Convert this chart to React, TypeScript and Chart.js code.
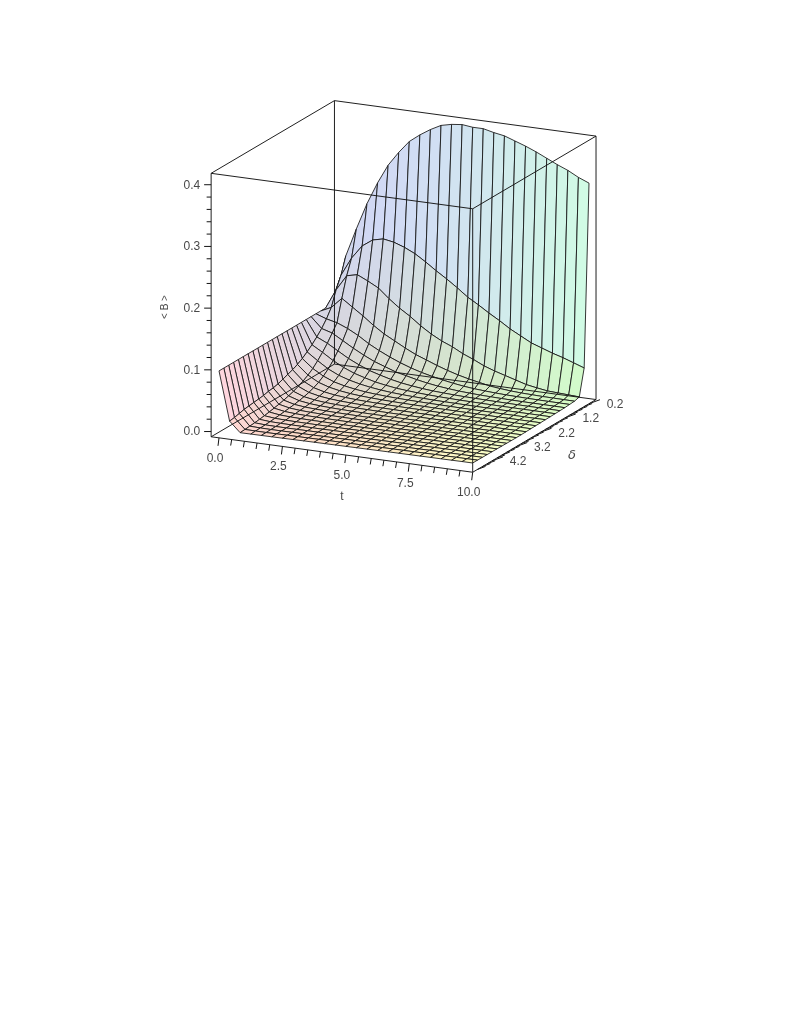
import React, { useEffect, useRef } from "react";
import { Chart, registerables } from "chart.js";

Chart.register(...registerables);

const tGrid = [0, 0.417, 0.833, 1.25, 1.667, 2.083, 2.5, 2.917, 3.333, 3.75, 4.167, 4.583, 5, 5.417, 5.833, 6.25, 6.667, 7.083, 7.5, 7.917, 8.333, 8.75, 9.167, 9.583, 10];
const deltaGrid = [0.2, 0.4, 0.6, 0.8, 1.0, 1.2, 1.4, 1.6, 1.8, 2.0, 2.2, 2.4, 2.6, 2.8, 3.0, 3.2, 3.4, 3.6, 3.8, 4.0, 4.2, 4.4, 4.6, 4.8, 5.0];

const b02 = [0.1, 0.178, 0.224, 0.267, 0.303, 0.334, 0.357, 0.377, 0.39, 0.401, 0.41, 0.414, 0.416, 0.414, 0.414, 0.41, 0.407, 0.401, 0.395, 0.388, 0.38, 0.372, 0.365, 0.356, 0.349];
const b04 = [0.1, 0.151, 0.181, 0.203, 0.215, 0.219, 0.216, 0.21, 0.202, 0.191, 0.179, 0.168, 0.156, 0.143, 0.133, 0.122, 0.112, 0.101, 0.092, 0.083, 0.077, 0.071, 0.066, 0.06, 0.054];
const b06 = [0.1, 0.132, 0.157, 0.161, 0.153, 0.144, 0.129, 0.116, 0.105, 0.092, 0.081, 0.072, 0.065, 0.056, 0.049, 0.041, 0.035, 0.03, 0.025, 0.02, 0.017, 0.0144, 0.0135, 0.0126, 0.0117];
const b08 = [0.1, 0.108, 0.125, 0.113, 0.101, 0.088, 0.0765, 0.0674, 0.0583, 0.05, 0.0436, 0.037, 0.0313, 0.0263, 0.0222, 0.0188, 0.0154, 0.0135, 0.012, 0.011, 0.0105, 0.01, 0.0098, 0.0096, 0.0094];
const b10 = [0.1, 0.094, 0.09, 0.083, 0.074, 0.063, 0.054, 0.046, 0.039, 0.033, 0.028, 0.024, 0.0205, 0.0175, 0.015, 0.0132, 0.012, 0.011, 0.0103, 0.0098, 0.0094, 0.0092, 0.009, 0.0089, 0.0088];
const b12 = [0.1, 0.083, 0.078, 0.068, 0.058, 0.049, 0.041, 0.035, 0.029, 0.025, 0.021, 0.0178, 0.0152, 0.0133, 0.0118, 0.0108, 0.01, 0.0095, 0.0091, 0.0088, 0.0086, 0.0085, 0.0084, 0.0083, 0.0082];
const b14 = [0.1, 0.074, 0.066, 0.056, 0.046, 0.038, 0.031, 0.026, 0.0215, 0.018, 0.0155, 0.0135, 0.012, 0.011, 0.0102, 0.0096, 0.0092, 0.0089, 0.0086, 0.0084, 0.0082, 0.0081, 0.008, 0.008, 0.0079];
const b16 = [0.1, 0.066, 0.056, 0.045, 0.036, 0.029, 0.024, 0.0195, 0.0165, 0.014, 0.0125, 0.0112, 0.0103, 0.0096, 0.0091, 0.0087, 0.0085, 0.0083, 0.0081, 0.008, 0.0079, 0.0078, 0.0078, 0.0077, 0.0077];
const b18 = [0.1, 0.059, 0.047, 0.036, 0.028, 0.0225, 0.0185, 0.0155, 0.0133, 0.0117, 0.0106, 0.0098, 0.0092, 0.0087, 0.0084, 0.0082, 0.008, 0.0078, 0.0077, 0.0076, 0.0076, 0.0075, 0.0075, 0.0075, 0.0074];
const b20 = [0.1, 0.053, 0.039, 0.029, 0.022, 0.0178, 0.0148, 0.0126, 0.0112, 0.0101, 0.0094, 0.0089, 0.0085, 0.0082, 0.008, 0.0078, 0.0076, 0.0075, 0.0074, 0.0074, 0.0073, 0.0073, 0.0072, 0.0072, 0.0072];
const b22 = [0.1, 0.048, 0.033, 0.0235, 0.018, 0.0146, 0.0123, 0.0108, 0.0098, 0.0091, 0.0086, 0.0082, 0.0079, 0.0077, 0.0075, 0.0074, 0.0073, 0.0072, 0.0071, 0.0071, 0.007, 0.007, 0.007, 0.0069, 0.0069];
const b24 = [0.1, 0.044, 0.028, 0.0195, 0.015, 0.0123, 0.0106, 0.0095, 0.0088, 0.0083, 0.0079, 0.0076, 0.0074, 0.0073, 0.0071, 0.007, 0.007, 0.0069, 0.0069, 0.0068, 0.0068, 0.0068, 0.0067, 0.0067, 0.0067];
const b26 = [0.1, 0.041, 0.024, 0.0165, 0.0128, 0.0107, 0.0094, 0.0086, 0.008, 0.0076, 0.0074, 0.0072, 0.007, 0.0069, 0.0068, 0.0067, 0.0067, 0.0066, 0.0066, 0.0066, 0.0065, 0.0065, 0.0065, 0.0065, 0.0065];
const b28 = [0.1, 0.038, 0.0205, 0.0142, 0.0112, 0.0095, 0.0085, 0.0079, 0.0074, 0.0071, 0.0069, 0.0067, 0.0066, 0.0065, 0.0065, 0.0064, 0.0064, 0.0063, 0.0063, 0.0063, 0.0063, 0.0063, 0.0062, 0.0062, 0.0062];
const b30 = [0.1, 0.035, 0.0178, 0.0124, 0.0099, 0.0086, 0.0078, 0.0073, 0.0069, 0.0067, 0.0065, 0.0064, 0.0063, 0.0062, 0.0062, 0.0061, 0.0061, 0.0061, 0.0061, 0.006, 0.006, 0.006, 0.006, 0.006, 0.006];
const b32 = [0.1, 0.033, 0.0155, 0.011, 0.009, 0.008, 0.0073, 0.0069, 0.0066, 0.0064, 0.0063, 0.0062, 0.0061, 0.006, 0.006, 0.006, 0.0059, 0.0059, 0.0059, 0.0059, 0.0059, 0.0059, 0.0059, 0.0059, 0.0059];
const b34 = [0.1, 0.032, 0.0135, 0.0098, 0.0082, 0.0074, 0.0069, 0.0066, 0.0064, 0.0062, 0.0061, 0.006, 0.006, 0.006, 0.0059, 0.0059, 0.0059, 0.0059, 0.0059, 0.0059, 0.0059, 0.0059, 0.0059, 0.0059, 0.0059];
const b36 = [0.1, 0.03, 0.0118, 0.0088, 0.0075, 0.0069, 0.0065, 0.0063, 0.0061, 0.006, 0.006, 0.0059, 0.0059, 0.0059, 0.0059, 0.0059, 0.0059, 0.0059, 0.0059, 0.006, 0.006, 0.006, 0.006, 0.006, 0.006];
const b38 = [0.1, 0.029, 0.0102, 0.0078, 0.0069, 0.0064, 0.0061, 0.006, 0.0059, 0.0058, 0.0058, 0.0058, 0.0058, 0.0058, 0.0059, 0.0059, 0.0059, 0.006, 0.006, 0.006, 0.006, 0.006, 0.0061, 0.0061, 0.0061];
const b40 = [0.1, 0.028, 0.0088, 0.007, 0.0063, 0.006, 0.0058, 0.0057, 0.0057, 0.0057, 0.0057, 0.0058, 0.0058, 0.0058, 0.0059, 0.0059, 0.006, 0.006, 0.006, 0.0061, 0.0061, 0.0061, 0.0061, 0.0062, 0.0062];
const b42 = [0.1, 0.027, 0.0076, 0.0062, 0.0058, 0.0056, 0.0055, 0.0055, 0.0055, 0.0056, 0.0056, 0.0057, 0.0057, 0.0058, 0.0059, 0.0059, 0.006, 0.006, 0.0061, 0.0061, 0.0061, 0.0062, 0.0062, 0.0062, 0.0063];
const b44 = [0.1, 0.026, 0.0066, 0.0056, 0.0053, 0.0052, 0.0053, 0.0053, 0.0054, 0.0055, 0.0055, 0.0056, 0.0057, 0.0057, 0.0058, 0.0059, 0.006, 0.006, 0.0061, 0.0061, 0.0062, 0.0062, 0.0063, 0.0063, 0.0063];
const b46 = [0.1, 0.024, 0.0058, 0.0052, 0.005, 0.005, 0.0051, 0.0052, 0.0053, 0.0054, 0.0055, 0.0056, 0.0056, 0.0057, 0.0058, 0.0059, 0.006, 0.006, 0.0061, 0.0062, 0.0062, 0.0063, 0.0063, 0.0064, 0.0064];
const b48 = [0.1, 0.022, 0.0051, 0.0049, 0.0048, 0.0049, 0.005, 0.0051, 0.0052, 0.0053, 0.0054, 0.0055, 0.0056, 0.0057, 0.0058, 0.0059, 0.006, 0.006, 0.0061, 0.0062, 0.0063, 0.0063, 0.0064, 0.0064, 0.0065];
const b50 = [0.1, 0.021, 0.0045, 0.0046, 0.0047, 0.0048, 0.0049, 0.005, 0.0052, 0.0053, 0.0054, 0.0055, 0.0056, 0.0057, 0.0058, 0.0059, 0.006, 0.0061, 0.0061, 0.0062, 0.0063, 0.0063, 0.0064, 0.0065, 0.0065];

const surface = [b02, b04, b06, b08, b10, b12, b14, b16, b18, b20, b22, b24, b26, b28, b30, b32, b34, b36, b38, b40, b42, b44, b46, b48, b50];

const tMajor = [0, 2.5, 5, 7.5, 10];
const tMajorLabels = ["0.0", "2.5", "5.0", "7.5", "10.0"];
const tMinor = [0.5, 1, 1.5, 2, 3, 3.5, 4, 4.5, 5.5, 6, 6.5, 7, 8, 8.5, 9, 9.5];
const deltaMajor = [0.2, 1.2, 2.2, 3.2, 4.2];
const deltaMajorLabels = ["0.2", "1.2", "2.2", "3.2", "4.2"];
const deltaMinor = [0.4, 0.6, 0.8, 1, 1.4, 1.6, 1.8, 2, 2.4, 2.6, 2.8, 3, 3.4, 3.6, 3.8, 4, 4.4, 4.6, 4.8];
const bMajor = [0, 0.1, 0.2, 0.3, 0.4];
const bMajorLabels = ["0.0", "0.1", "0.2", "0.3", "0.4"];
const bMinor = [0.02, 0.04, 0.06, 0.08, 0.12, 0.14, 0.16, 0.18, 0.22, 0.24, 0.26, 0.28, 0.32, 0.34, 0.36, 0.38];

const tBox = [-0.31, 10];
const deltaBox = [-0.09, 5];
const bBox = [-0.0085, 0.4185];

const W = 785;
const H = 1016;

// Orthographic view of the (t, delta, B) box on the page
function project(t: number, d: number, b: number) {
  return {
    x: 472.7 - (10 - t) * 25.37 + (5 - d) * 24.23,
    y: 467 - (10 - t) * 3.44 - (5 - d) * 14.28 - b * 617,
  };
}

// Each channel of the surface colour follows one of the axes
function quadColor(t: number, d: number, b: number) {
  const r = 208 + (47 * (d - 0.2)) / 4.8;
  const g = 214 + 38 * Math.pow(t / 10, 1.5);
  const bl = 195 + 60 * Math.pow(b / 0.415, 0.8) + 15 * Math.pow(1 - t / 10, 4);
  return `rgb(${Math.round(r)},${Math.round(g)},${Math.round(Math.min(255, bl))})`;
}

function line(points: { x: number; y: number }[], color: string, width: number) {
  return {
    data: points,
    showLine: true,
    fill: false,
    borderColor: color,
    borderWidth: width,
    pointRadius: 0,
    tension: 0,
  };
}

function buildDatasets() {
  const drawn: any[] = [];
  // back rows first, so nearer facets cover what is behind them
  for (let j = 0; j < deltaGrid.length - 1; j++) {
    for (let k = 0; k < tGrid.length - 1; k++) {
      const a = project(tGrid[k], deltaGrid[j], surface[j][k]);
      const b = project(tGrid[k + 1], deltaGrid[j], surface[j][k + 1]);
      const c = project(tGrid[k + 1], deltaGrid[j + 1], surface[j + 1][k + 1]);
      const e = project(tGrid[k], deltaGrid[j + 1], surface[j + 1][k]);
      const mean = (surface[j][k] + surface[j][k + 1] + surface[j + 1][k + 1] + surface[j + 1][k]) / 4;
      drawn.push({
        data: [a, b, c, e, a],
        showLine: true,
        fill: "shape",
        backgroundColor: quadColor((tGrid[k] + tGrid[k + 1]) / 2, (deltaGrid[j] + deltaGrid[j + 1]) / 2, mean),
        borderColor: "rgba(20,20,20,0.85)",
        borderWidth: 1,
        pointRadius: 0,
        tension: 0,
      });
    }
  }
  // the box
  const [t0, t1] = tBox;
  const [d0, d1] = deltaBox;
  const [b0, b1] = bBox;
  const edges: [number, number, number, number, number, number][] = [
    [t0, d1, b0, t1, d1, b0], [t1, d1, b0, t1, d0, b0], [t1, d0, b0, t0, d0, b0], [t0, d0, b0, t0, d1, b0],
    [t0, d1, b1, t1, d1, b1], [t1, d1, b1, t1, d0, b1], [t1, d0, b1, t0, d0, b1], [t0, d0, b1, t0, d1, b1],
    [t0, d1, b0, t0, d1, b1], [t1, d1, b0, t1, d1, b1], [t1, d0, b0, t1, d0, b1], [t0, d0, b0, t0, d0, b1],
  ];
  for (const ed of edges) {
    drawn.push(line([project(ed[0], ed[1], ed[2]), project(ed[3], ed[4], ed[5])], "rgba(20,20,20,0.95)", 1));
  }
  // ticks
  const tick = (p: { x: number; y: number }, dx: number, dy: number) =>
    drawn.push(line([p, { x: p.x + dx, y: p.y + dy }], "rgba(20,20,20,1)", 1));
  for (const v of tMajor) tick(project(v, d1, b0), -1, 8);
  for (const v of tMinor) tick(project(v, d1, b0), -1, 6);
  for (const v of deltaMajor) tick(project(t1, v, b0), 11, -4);
  for (const v of deltaMinor) tick(project(t1, v, b0), 8, -3);
  for (const v of bMajor) tick(project(t0, d1, v), -7, 0);
  for (const v of bMinor) tick(project(t0, d1, v), -4.5, 0);
  return drawn.map((ds, i) => ({ ...ds, order: drawn.length - i }));
}

const labelsPlugin = {
  id: "axisLabels",
  afterDraw(chart: any) {
    const { ctx, scales } = chart;
    const put = (p: { x: number; y: number }, dx: number, dy: number, s: string, align: CanvasTextAlign) => {
      ctx.textAlign = align;
      ctx.fillText(s, scales.x.getPixelForValue(p.x) + dx, scales.y.getPixelForValue(p.y) + dy);
    };
    ctx.save();
    ctx.fillStyle = "#484848";
    ctx.textBaseline = "middle";
    ctx.font = '12px "Liberation Sans", Arial, sans-serif';
    tMajor.forEach((v, i) => put(project(v, deltaBox[1], bBox[0]), -4, 20.5, tMajorLabels[i], "center"));
    deltaMajor.forEach((v, i) => put(project(tBox[1], v, bBox[0]), 26, 1, deltaMajorLabels[i], "center"));
    bMajor.forEach((v, i) => put(project(tBox[0], deltaBox[1], v), -11, 0.5, bMajorLabels[i], "right"));
    ctx.textAlign = "center";
    ctx.fillText("t", 342, 497);
    ctx.font = 'italic 13px "DejaVu Sans", sans-serif';
    ctx.fillText("δ", 572, 456);
    ctx.translate(165, 307);
    ctx.rotate(-Math.PI / 2);
    ctx.font = '10px "Liberation Sans", Arial, sans-serif';
    ctx.fillText("< B >", 0, 0);
    ctx.restore();
  },
};

export default function App() {
  const ref = useRef<HTMLCanvasElement>(null);
  useEffect(() => {
    const chart = new Chart(ref.current as HTMLCanvasElement, {
      type: "scatter",
      data: { datasets: buildDatasets() as any },
      options: {
        animation: false,
        responsive: false,
        events: [],
        layout: { padding: 0 },
        plugins: { legend: { display: false }, tooltip: { enabled: false }, title: { display: false } },
        scales: {
          x: { type: "linear", min: 0, max: W, display: false },
          y: { type: "linear", min: 0, max: H, reverse: true, display: false },
        },
      },
      plugins: [labelsPlugin],
    });
    return () => chart.destroy();
  }, []);
  return (
    <canvas
      ref={ref}
      width={W}
      height={H}
      style={{ position: "absolute", left: 0, top: 0, width: W, height: H, display: "block", background: "#fff" }}
    />
  );
}
